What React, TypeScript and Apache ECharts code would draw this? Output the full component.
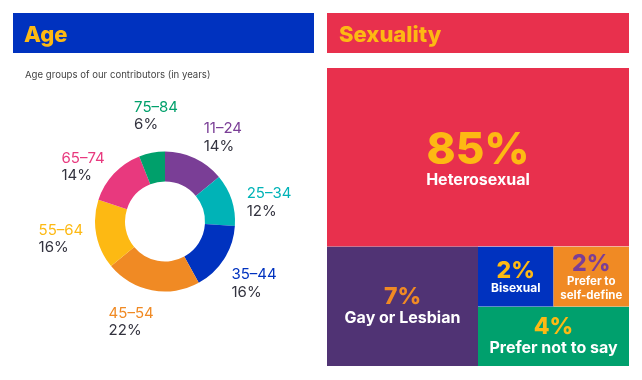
import React, { useEffect, useRef } from 'react';
import * as echarts from 'echarts';

// ---- Data ----
const ageGroups = ['11–24', '25–34', '35–44', '45–54', '55–64', '65–74', '75–84'];
const agePercent = [14, 12, 16, 22, 16, 14, 6];

const sexualityNames = ['Heterosexual', 'Gay or Lesbian', 'Bisexual', 'Prefer to\nself-define', 'Prefer not to say'];
const sexualityPercent = [85, 7, 2, 2, 4];
// relative tile areas as drawn in the graphic (not proportional to the percentages)
const sexualityTileArea = [60, 20, 5, 5, 10];

// ---- Styles ----
const BLUE = '#0032BF';
const RED = '#E8304D';
const YELLOW = '#FDB913';
const FONT = 'Inter';
const ageColors = ['#7A3E96', '#00B3B7', '#0032BF', '#F08A24', '#FDB913', '#E8397E', '#00A06B'];
const tileColors = [RED, '#503374', BLUE, '#F08A24', '#00A06D'];
const tilePctColors = [YELLOW, '#F08A24', YELLOW, '#7A3E96', YELLOW];
const tilePctSize = [44, 23, 23, 23, 23];
const tilePctLH = [44, 22, 22, 22, 22];
const tileNameSize = [16, 16, 12, 11.5, 16];
const tileNameLH = [18, 20, 14, 14, 20];

// label placement (layout only)
const PIE_CX = 165;
const PIE_CY = 221.5;
const labelAngleNudge = [9, 7, 2, 8, 2, -9, 6];
const labelRadius = [103, 106, 108, 105, 107, 99, 107];

export default function App() {
  const ref = useRef<HTMLDivElement>(null);
  useEffect(() => {
    if (!ref.current) return;
    const chart = echarts.init(ref.current, undefined, { renderer: 'svg' });

    const total = agePercent.reduce((a, b) => a + b, 0);
    let acc = 0;
    const midAngles = agePercent.map((v) => {
      const m = ((acc + v / 2) / total) * 360;
      acc += v;
      return m;
    });

    const tileText: Record<string, number> = {};
    const leaf = (i: number) => {
      const nameLines = sexualityNames[i].split('\n');
      const text = `{p|${sexualityPercent[i]}%}\n` + nameLines.map((l) => `{n|${l}}`).join('\n');
      tileText[text] = tilePctLH[i] + tileNameLH[i] * nameLines.length;
      return {
        name: sexualityNames[i],
        value: sexualityTileArea[i],
        itemStyle: { color: tileColors[i], borderWidth: 0 },
        label: {
          show: true,
          position: 'inside',
          align: 'center',
          verticalAlign: 'middle',
          padding: 0,
          overflow: 'none',
          formatter: text,
          rich: {
            p: {
              color: tilePctColors[i],
              fontSize: tilePctSize[i],
              fontWeight: 800,
              fontFamily: FONT,
              lineHeight: tilePctLH[i],
              align: 'center',
            },
            n: {
              color: '#ffffff',
              fontSize: tileNameSize[i],
              fontWeight: 700,
              fontFamily: FONT,
              lineHeight: tileNameLH[i],
              align: 'center',
            },
          },
        },
      };
    };

    const treeData = [
      leaf(0),
      {
        name: 'others',
        children: [
          leaf(1),
          {
            name: 'small',
            children: [
              { name: 'smallest', children: [leaf(2), leaf(3)] },
              leaf(4),
            ],
          },
        ],
      },
    ];

    chart.setOption({
      animation: false,
      title: {
        text: 'Age groups of our contributors (in years)',
        left: 20,
        top: 64,
        textStyle: { fontSize: 9.6, fontWeight: 'normal', color: '#444', fontFamily: FONT },
      },
      graphic: [
        { type: 'rect', shape: { x: 13, y: 13, width: 301, height: 40 }, style: { fill: BLUE } },
        {
          type: 'text',
          x: 24,
          y: 34,
          style: { text: 'Age', fill: YELLOW, fontSize: 22, fontWeight: 800, fontFamily: FONT, verticalAlign: 'middle' },
        },
        { type: 'rect', shape: { x: 327, y: 13, width: 302, height: 40 }, style: { fill: RED } },
        {
          type: 'text',
          x: 339,
          y: 34,
          style: { text: 'Sexuality', fill: YELLOW, fontSize: 22, fontWeight: 800, fontFamily: FONT, verticalAlign: 'middle' },
        },
      ],
      series: [
        {
          type: 'pie',
          center: [PIE_CX, PIE_CY],
          radius: [40, 70],
          startAngle: 90,
          clockwise: true,
          silent: true,
          label: {
            show: true,
            position: 'outside',
            overflow: 'none',
          },
          labelLine: { show: false },
          labelLayout: (p: any) => {
            const i = p.dataIndex;
            const a = ((midAngles[i] + labelAngleNudge[i]) * Math.PI) / 180;
            return {
              x: PIE_CX + Math.sin(a) * labelRadius[i],
              y: PIE_CY - Math.cos(a) * labelRadius[i],
              align: 'center',
              verticalAlign: 'middle',
            };
          },
          data: ageGroups.map((g, i) => ({
            name: g,
            value: agePercent[i],
            itemStyle: { color: ageColors[i] },
            label: {
              formatter: `{n|${g}}\n{p|${agePercent[i]}%}`,
              rich: {
                n: { color: ageColors[i], fontSize: 15, fontFamily: FONT, lineHeight: 17.5, align: 'left' },
                p: { color: '#33333F', fontSize: 15, fontFamily: FONT, lineHeight: 17.5, align: 'left' },
              },
            },
          })),
        },
        {
          type: 'treemap',
          left: 327,
          top: 68,
          width: 302,
          height: 298,
          roam: false,
          nodeClick: false,
          silent: true,
          sort: false,
          breadcrumb: { show: false },
          visibleMin: 0,
          itemStyle: { borderWidth: 0, gapWidth: 0 },
          upperLabel: { show: false },
          labelLayout: (p: any) => {
            const h = tileText[p.text];
            if (h == null || !p.rect) return {};
            return { dy: (p.rect.height - h) / 2 };
          },
          levels: [
            { itemStyle: { borderWidth: 0, gapWidth: 0 } },
            { itemStyle: { borderWidth: 0, gapWidth: 0 } },
            { itemStyle: { borderWidth: 0, gapWidth: 0 } },
            { itemStyle: { borderWidth: 0, gapWidth: 0 } },
            { itemStyle: { borderWidth: 0, gapWidth: 0 } },
          ],
          data: treeData,
        },
      ],
    });
    return () => chart.dispose();
  }, []);
  return <div ref={ref} style={{ position: 'fixed', left: 0, top: 0, width: 642, height: 380 }} />;
}
